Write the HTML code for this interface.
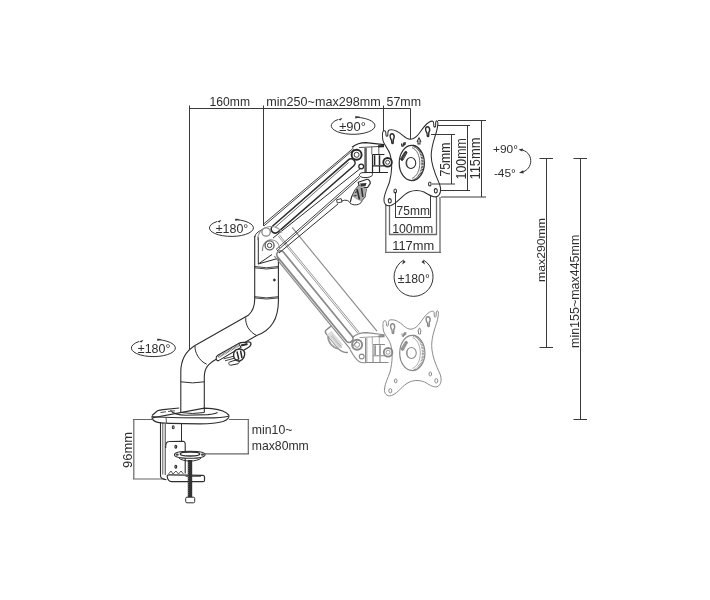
<!DOCTYPE html>
<html><head><meta charset="utf-8">
<style>
html,body{margin:0;padding:0;background:#fff;}
svg{display:block;filter:grayscale(100%);}
text{font-family:"Liberation Sans",sans-serif;fill:#2e2e2e;stroke:none;}
</style></head>
<body>
<svg width="710" height="600" viewBox="0 0 710 600">
<rect width="710" height="600" fill="#fff"/>

<!-- ===== DIMENSION LINES ===== -->
<g stroke="#3a3a3a" stroke-width="1" fill="none">
  <path d="M189.5 108.5H410.5"/>
  <path d="M189.5 105.5V349"/>
  <path d="M263.5 105.5V226"/>
  <path d="M383.5 105.5V131"/>
  <path d="M410.5 108.5V139"/>
  <!-- right plate dims -->
  <path d="M438 120.5H486 M481.5 120.5V197 M441 197H486"/>
  <path d="M438 125.5H470 M467.5 125.5V190.5 M441 190.5H470"/>
  <path d="M431 134.5H455 M451.5 134.5V184 M432 184H455"/>
  <!-- bottom plate dims -->
  <path d="M395.5 192V218 M430.5 195V218 M395 217.5H431"/>
  <path d="M389.5 205V235 M436.5 196V235 M389 234.5H437" stroke="#6a6a6a" stroke-width="1.3"/>
  <path d="M385.8 205V253 M440 197V253 M385 252.3H441" stroke="#6a6a6a" stroke-width="1.3"/>
  <!-- vertical right -->
  <path d="M539.5 158.5H553 M546.5 158.5V347.5 M539.5 347.5H553"/>
  <path d="M573.5 158.5H587 M580.5 158.5V419.5 M573.5 419.5H587"/>
  <!-- clamp dims -->
  <path d="M133.8 419.5V479 M133 419.5H152 M133 479H165" stroke="#666" stroke-width="1.2"/>
  <path d="M229 419.5H249 M248.3 419.5V454 M205 453.8H249" stroke="#666" stroke-width="1.2"/>
</g>

<!-- rotation symbols -->
<g stroke="#333" stroke-width="1" fill="none">
  <path d="M356 117.2 A21.9 8.6 0 1 1 338 119.5"/>
  <path d="M236 219.6 A22 8.5 0 1 1 217 221.5"/>
  <path d="M158 339.6 A22 8.6 0 1 1 139 341.5"/>
  <path d="M423.5 260.1 A19.5 19.5 0 1 1 403.6 260.1"/>
  <path d="M520 149.6 C534 151 534.5 170 520.5 172.6"/>
</g>
<g fill="#333">
  <path d="M355 116.3 l5 0.2 -4.5 2.2z"/>
  <path d="M338 119.5 l4.5 -1.8 -2 2.8z"/>
  <path d="M235 218.7 l5 0.2 -4.5 2.2z"/>
  <path d="M217 221.5 l4.5 -1.8 -2 2.8z"/>
  <path d="M157 338.7 l5 0.2 -4.5 2.2z"/>
  <path d="M139 341.5 l4.5 -1.8 -2 2.8z"/>
  <path d="M403.6 260.1 l-1.5 4.5 3.5-2.5z"/>
  <path d="M423.5 260.1 l1.5 4.5 -3.5-2.5z"/>
  <path d="M518.5 149.6 l4.5 -1.2 -0.8 3.2z"/>
  <path d="M519 172.8 l4.2 -2.6 0.4 3.2z"/>
</g>

<!-- ===== TEXT ===== -->
<g font-size="12.2">
  <text x="209.5" y="106" textLength="40.5" lengthAdjust="spacingAndGlyphs">160mm</text>
  <text x="266.3" y="106" textLength="114.5" lengthAdjust="spacingAndGlyphs">min250~max298mm</text>
  <text x="386.5" y="106" textLength="34.5" lengthAdjust="spacingAndGlyphs">57mm</text>
  <text x="339.2" y="131" textLength="26.7" lengthAdjust="spacingAndGlyphs" font-size="13.2">±90°</text>
  <text x="215.8" y="233" textLength="32.5" lengthAdjust="spacingAndGlyphs" font-size="13.2">±180°</text>
  <text x="137.8" y="353" textLength="32.6" lengthAdjust="spacingAndGlyphs" font-size="13.2">±180°</text>
  <text x="397.7" y="283" textLength="32.1" lengthAdjust="spacingAndGlyphs" font-size="13.2">±180°</text>
  <text x="396.6" y="215.3" textLength="33.3" lengthAdjust="spacingAndGlyphs" font-size="12.2">75mm</text>
  <text x="392.2" y="232.5" textLength="41" lengthAdjust="spacingAndGlyphs" font-size="12.2">100mm</text>
  <text x="392.2" y="249.8" textLength="42" lengthAdjust="spacingAndGlyphs" font-size="12.2">117mm</text>
  <text x="493" y="152.8" textLength="25" lengthAdjust="spacingAndGlyphs" font-size="11.5">+90°</text>
  <text x="493.9" y="176.8" textLength="22" lengthAdjust="spacingAndGlyphs" font-size="11.5">-45°</text>
  <text x="251.8" y="434" textLength="40.6" lengthAdjust="spacingAndGlyphs" font-size="12.2">min10~</text>
  <text x="251.8" y="450.2" textLength="57" lengthAdjust="spacingAndGlyphs" font-size="12.2">max80mm</text>
  <text transform="translate(450 176.5) rotate(-90)" textLength="34" lengthAdjust="spacingAndGlyphs" font-size="13.8">75mm</text>
  <text transform="translate(465.7 179.5) rotate(-90)" textLength="41.3" lengthAdjust="spacingAndGlyphs" font-size="13.8">100mm</text>
  <text transform="translate(480 179.5) rotate(-90)" textLength="42" lengthAdjust="spacingAndGlyphs" font-size="13.8">115mm</text>
  <text transform="translate(545 282) rotate(-90)" textLength="64" lengthAdjust="spacingAndGlyphs" font-size="11.6">max290mm</text>
  <text transform="translate(579 348) rotate(-90)" textLength="113.3" lengthAdjust="spacingAndGlyphs" font-size="12.2">min155~max445mm</text>
  <text transform="translate(132.4 468) rotate(-90)" textLength="36" lengthAdjust="spacingAndGlyphs" font-size="12.8">96mm</text>
</g>

<!-- ===== PLACEHOLDER FOR MECHANICS ===== -->
<g id="mech"><defs>
<g id="plate">
  <path d="M382.7 139 C382.2 135 382.4 131 384 130.7 C385.3 130.5 385.8 131.5 385.9 133.5 L386 135.3 C386.3 136.5 387.6 136.5 387.8 135.3 L387.9 132.5 C388 130.5 388.8 129.8 390.5 129.8 C395 129.5 399 132 403 135.7 C405.5 138 408 139.3 410.5 139.2 C414 139 417 136.5 419.5 133 C422 129.5 425 124.5 429 122.2 C430.3 121.4 431.8 121 432.8 121.2 C433.5 121.5 433.7 122.5 433.7 124 L433.8 126.2 C434 127.4 435.5 127.4 435.6 126.2 L435.7 123 C435.8 121.5 436.2 120.8 437 120.9 C438.5 121.2 437.8 127 436.5 131.5 C435 137 431.2 146 431.2 155.5 C431.2 166 436 176 439.5 184 C441.5 189 441 195 436.5 196.8 C432 197.5 428 194 424 192 C419 190 414 190 409 192 C402 195 398 203 391 205.5 C386 207 383.5 203 384 199 C384.5 193 387.5 188 389.5 182 C392 172 392.5 162 390 154 C388 148 383 144 382.7 139 Z"/>
  <path stroke-width="1.4" d="M390.5 134.5 C389.5 136 390.5 139 391.5 140 L391.8 143 C392.2 143.8 393 143.8 393.2 143 L393.3 139.5 C394 138.5 394.5 136 393.5 134.5 C392.8 133.5 391.3 133.5 390.5 134.5 Z"/>
  <path stroke-width="1.4" d="M426 127.5 C425 129 426 132 427 133 L427.3 136 C427.7 136.8 428.5 136.8 428.7 136 L428.8 132.5 C429.5 131.5 430 129 429 127.5 C428.3 126.5 426.8 126.5 426 127.5 Z"/>
  <path d="M417.3 141.2 L419 137.8 L420.7 141.2 L420 141.2 L420 144 L418 144 L418 141.2 Z"/>
  <ellipse cx="429.8" cy="184" rx="1.3" ry="2"/>
  <ellipse cx="435.8" cy="190.8" rx="1.5" ry="2.2"/>
  <ellipse cx="395.2" cy="190.9" rx="1.3" ry="2"/>
  <ellipse cx="389.8" cy="200.8" rx="1.5" ry="2.2"/>
  <ellipse cx="411.8" cy="163" rx="12.6" ry="17.6" stroke-width="1.2"/>
  <path d="M413 145.6 C419.5 147.5 422.5 155 422.5 163 C422.5 171 419.5 178.5 413 180.4" stroke-width="2.4" stroke-dasharray="0.8 0.7"/>
  <path d="M412 147.6 C417 149.5 419.8 156 419.8 163 C419.8 170 417 176.5 412 178.4" stroke-width="0.7"/>
  <ellipse cx="410.9" cy="163" rx="4.85" ry="5.5" stroke-width="1.1"/>
  <path d="M407.2 159.5 C406.5 162 406.6 165 407.6 167" stroke-width="0.7"/>
  <path d="M400.6 158.5 L404.8 151.8 C405.6 150.8 407.2 151.5 407 152.8 L403 160 C402.3 161.2 400.2 160.2 400.6 158.5 Z" fill="currentColor" stroke-width="0.8"/>
  <path d="M401.8 157.5 L405.5 153 M402.8 159 L406 154" stroke="#fff" stroke-width="0.5" stroke-dasharray="0.6 0.9"/>
  <path d="M401.5 143.5 L401.8 146 L403 146.3 L403.3 143.3 M404.2 145.8 L404 142.8 L405.3 142.8 L405.2 144.3 L404.2 144.5" stroke-width="1.1"/>
</g>
<g id="head">
 <path d="M352 147.2 C356 144 361 142.6 366 142.6 L384 144.7"/>
 <path d="M359 147.6 L383.7 146.2" stroke-width="0.8"/>
 <path d="M378 145.3 L384 145 L384 147.2 L378 147.5 Z" fill="currentColor" stroke="none"/>
 <path d="M365.1 147.9 V172.5 M365.1 172.5 H388"/>
 <path d="M366.4 148 V172.3 M371.8 146.8 V154.5 M378.8 146.4 V154.5" stroke-width="0.7"/>
 <path d="M372.5 154.5 H384.4 M372.5 165.8 H384.4 M372.5 154.5 V172.5 M379.5 165.8 V172.5"/>
 <path d="M374.6 155.3 V165 M379.5 155.3 V165" stroke-width="1.5"/>
 <circle cx="356.6" cy="154.8" r="5" stroke-width="1.9"/>
 <circle cx="356.6" cy="154.8" r="2.5" stroke-width="0.9"/>
 <circle cx="361.2" cy="166.5" r="2.4"/>
 <circle cx="387.6" cy="162.3" r="4.3" stroke-width="1.8"/>
 <circle cx="387.6" cy="162.3" r="2" stroke-width="0.8"/>
</g>
</defs>
<use href="#plate" stroke="#2e2e2e" fill="none" stroke-width="1.05" color="#2e2e2e"/>
<use href="#plate" x="0.5" y="190" stroke="#8a8a8a" fill="none" stroke-width="1" color="#8a8a8a"/>


<!-- POST & S-TUBE -->
<g stroke="#2e2e2e" fill="none" stroke-width="1">
 <path d="M254.7 236 V299 C254.7 306 252.5 311.5 248.3 315.3 L195 345.5 C186 351 180.8 360 180.8 372 V412.5" stroke-width="1.1"/>
 <path d="M278.4 258 V301 C278.4 318 272 330 256.7 335.5 L215.8 359.5 C208 364 204.3 368 204.3 377 V412.5" stroke-width="1.1"/>
 <path d="M254.7 266.5 Q266.5 269 278.4 266.5 M254.7 267.8 Q266.5 270.2 278.4 267.8" stroke-width="0.9"/>
 <path d="M254.7 296.7 Q266.5 299 278.4 296.7 M254.7 297.9 Q266.5 300.2 278.4 297.9" stroke-width="0.9"/>
 <path d="M245.8 317.5 C245 324 249 332 256.7 335.5"/>
 <path d="M195 345.8 C194.5 352 199 361 206.7 364.2"/>
 <path d="M180.8 381.8 Q192.5 384 204.3 381.8"/>
 <circle cx="274.4" cy="280" r="0.9" fill="#2e2e2e"/>
 <path d="M254.9 237 C255 234 258 231.5 262.5 229.5 M258.3 237 V264 L272 254.5 M258.3 264 L277.5 258.5"/>
</g>
<!-- lock lever on S-tube -->
<g stroke="#2a2a2a" fill="none" stroke-width="1">
 <path d="M217.8 355.3 L239 343.2 L241 347.5 L218.6 360.6 C215.8 361.2 215.2 356.8 217.8 355.3 Z" fill="#fff" stroke-width="1.1"/>
 <path d="M218.5 357 L239.5 345" stroke-width="2.2" stroke-dasharray="0.6 0.8"/>
 <path d="M239 343.5 C241 341.8 244 342.6 246 342.3 C248 341.9 250.2 341.2 250.8 343 C251.3 345 249.5 347 247.5 348 L244 350" fill="#fff" stroke-width="1.3"/>
 <path d="M241 345.5 L247.5 344" stroke-width="2.2"/>
 <path d="M236 349.8 C240 348.3 244 349.2 244.6 352.5 C245.2 356 243.2 360 239.8 361 C236.5 361.6 233.8 359 233.6 355.8 C233.5 353 234.5 351 236 349.8 Z" fill="#fff" stroke-width="1.4"/>
 <path d="M237 351.5 L238.8 359.5 M240.5 350.5 L242 358" stroke-width="1.5"/>
 <path d="M223.7 358.8 L234 356.2 M225 360.8 L234.5 358.2" stroke-width="0.9"/>
 <path d="M229.5 362 L237.5 359.5 C239.5 359.8 239.8 362.6 238 363.8 L231 365.2 C229 365.4 228 363.2 229.5 362 Z"/>
</g>
<!-- BASE -->
<g stroke="#2e2e2e" fill="none" stroke-width="1">
 <path d="M152 415.5 L157.5 410.8 C159 410.2 161 409.8 163 409.6 L179.2 408 M204.3 408.2 L212 408.6 C220 409.5 226.5 412 228.8 415.2 C229.6 417.5 227.5 420 223 421.5 C217 423.2 209 423.8 200 423.8 L170 423.4 C163 423.2 158 422.6 155.5 421.6 C153.5 420.8 152.5 419.5 152 418 Z" stroke-width="1.2"/>
 <path d="M151.5 416.5 C160 417.3 170 417.6 180 417.7 L205 417.9 C214 418 222 417.8 228.5 416.2" stroke-width="1.1"/>
 <path d="M166 417.6 L166.5 422.8" stroke-width="0.8"/>
 <path d="M170.5 410.3 C173 413.5 178 415 186 415.3 L208 414.6 C212 414.2 216 413.3 217.5 412.5" stroke-width="1.1"/>
 <path d="M180.8 412.5 Q192.5 414.5 204.3 412.5"/>
 <path d="M160.5 412.5 L166 411.8 M168 411.5 L175 410.8" stroke-width="1.1" stroke="#555"/>
<!-- clamp -->
 <path d="M160.5 422 V475.5 C160.5 478 163 479.5 166.5 479.8" stroke-width="1.1"/>
 <path d="M162.8 423 V474.5" stroke-width="0.8"/>
 <path d="M165.3 423.5 V475" stroke="#777" stroke-width="1.4"/>
 <path d="M181.5 423.5 V441.5" stroke-width="1"/>
 <path d="M165.7 448 V446 C165.7 443 167 441.5 169.5 441.5 L183 441.2 C184.5 441.3 185.2 442.5 185.2 444 V473.5" stroke-width="1.1"/>
 <path d="M168.5 474 L171 471 L173 474 L176 471 L178.5 474 L181 471 L183.5 474" stroke-width="0.8"/>
 <path d="M167.2 476.5 C167 475.3 168 474.8 169.5 474.8 L203 475.3 C204.2 475.4 204.5 476 204.5 477 L204.5 480.5 C204.5 481.2 204 481.6 203 481.6 L171.5 481.6 C169 481.4 167.5 479 167.2 476.5 Z" stroke-width="1.2"/>
 <path d="M185.5 476.5 H201" stroke-width="0.7"/>
 <path d="M187.8 460 H192.2 V497.5 H187.8 Z" fill="#333" stroke="none"/>
 <path d="M188.3 462 V496" stroke="#888" stroke-width="0.6" stroke-dasharray="1 1"/>
 <rect x="185.7" y="497.2" width="9" height="5.6" rx="1.3" fill="#fff" stroke-width="1"/>
 <path d="M174.5 454.7 C174.5 452.4 180 451.2 190 451.2 C200 451.2 205 452.4 205 454.7 C205 457 200 458.3 190 458.3 C180 458.3 174.5 457 174.5 454.7 Z" fill="#fff" stroke-width="1.1"/>
 <ellipse cx="190" cy="454" rx="9.8" ry="2" stroke-width="1.3"/>
 <path d="M179 458 C181 460 185 461 190 461 C195 461 199 460 201 458" stroke-width="1"/>
 <ellipse cx="177.2" cy="454.7" rx="1.6" ry="1.1" fill="#444" stroke="none"/>
 <ellipse cx="202.5" cy="454.7" rx="1.6" ry="1.1" fill="#444" stroke="none"/>
 <ellipse cx="173.2" cy="427.3" rx="0.9" ry="1.5" stroke-width="1.1"/>
 <ellipse cx="175.8" cy="446.8" rx="0.9" ry="1.4" stroke-width="1.2"/>
 <ellipse cx="175.8" cy="466.7" rx="0.9" ry="1.4" stroke-width="1.2"/>
</g>


<!-- GHOST ARM -->
<g stroke="#888" fill="none" stroke-width="1.1">
 <g transform="rotate(50.7)">
  <path d="M361 -82 H495"/>
  <path d="M359 -65.8 H485 M359 -67.4 H485" stroke-width="0.8"/>
  <rect x="371" y="-59.6" width="116" height="7.6" rx="3.8" stroke-width="1.7"/>
  <path d="M372 -50 H492"/>
  <path d="M462 -50 L462 -43 C462 -41 464 -41 466 -41 L484 -41 C488 -41 492 -44 493 -46" stroke-width="1.4"/>
  <path d="M466 -41 L484 -41 L484 -47 L466 -47 Z" fill="#ddd" stroke="none"/>
  <path d="M468 -41 C472 -37 480 -37 484 -41" stroke-width="1.8" stroke="#999"/>
  <path d="M470 -44 H486" stroke-width="2" stroke="#aaa" stroke-dasharray="0.8 0.8"/>
 </g>
 <use href="#head" x="0.5" y="190" color="#888"/>
 <path d="M350 349.5 C352 353 355 359 359 361.5 C361.5 363 364 363 366 362.5"/>
 <path d="M352.5 346.5 L357 341" />
</g>
<use href="#head" stroke="#262626" fill="none" stroke-width="1.2" color="#262626"/>

<!-- MAIN ARM -->
<g id="mainarm" stroke="#2e2e2e" fill="none" stroke-width="1">
 <path d="M263 224.5 L353.5 148 M264 225.8 L354 149.3" stroke-width="0.9"/>
 <path d="M272.7 226 L348.4 159.8 A4 4 0 0 1 353.6 166 L277.9 232.2 A4 4 0 0 1 272.7 226 Z" stroke-width="1.6"/>
 <path d="M274.9 227.5 L348.6 162.5" stroke-width="0.7"/>
 <path d="M273 238 L361 168"/>
 <path d="M276 249.5 L359 176.2 M277 251 L360 177.6" stroke-width="0.9"/>
 <path d="M279 253 L338 204"/>
 <!-- knob -->
 <path d="M337.3 203 L336.6 199.8 L341.2 198.6 L341.9 202 Z" stroke-width="0.9"/>
 <path d="M341.9 201.2 C343.5 200 345.5 200 347.5 200.6 C349 201.2 349.5 202 350 203 C351.5 204.6 354 205 356.5 204.8 C359 204.5 361 203 362 201.5"/>
 <path d="M358.3 182.3 L367 179.3 C368.5 179 370.3 181 370.3 183.3 L367.7 187.3 C365 188 362 187.5 359 185.3 Z" stroke-width="1.2"/>
 <path d="M360 183.5 L366.5 183 L365.5 186.3 L361 186 Z" fill="#333" stroke="none"/>
 <path d="M359 185.3 L355 190 L351.7 196.7 L350.3 202 M366.3 188.7 L365 196.7 L361 201.3" stroke-width="1.2"/>
 <path d="M359 185.3 L355 190 L352.5 196 L356 199 L361 201.3 L365 196.7 L366.3 188.7 Z" fill="#aaa" stroke="none"/>
 <path d="M357 189 L359.5 199.5 M361.5 188 L362.8 197" stroke-width="1.6"/>
 <path d="M355 192.5 L357.5 191.5 M353.5 196 L356.5 195.5" stroke-width="1"/>
 <path d="M359.5 175.5 C359 173.8 360.5 172.8 363 172.6 L370.5 172.5 C372.5 172.6 373 174 372.2 175.5 C371 177 368 177.6 365 177.6 C362.5 177.6 360 177 359.5 175.5 Z"/>
 <!-- elbow pivots -->
 <path d="M257.5 240 C258 232 263 227 270 226.5 C276 226.3 280 229 282 232.5" stroke="#9a9a9a" stroke-width="1.2"/>
 <path d="M262.5 251 C262 244.5 266 240 271 239.8 C276 239.8 279 243.5 279.5 248" stroke="#888" stroke-width="1.1"/>
 <circle cx="266.1" cy="232" r="4.2" stroke="#888" stroke-width="1.3"/>
 <circle cx="269.6" cy="245.4" r="4.5" stroke="#666" stroke-width="1.4"/>
 <circle cx="269.6" cy="245.4" r="2.2" stroke="#444"/>
</g>
</g>

</svg>
</body></html>
